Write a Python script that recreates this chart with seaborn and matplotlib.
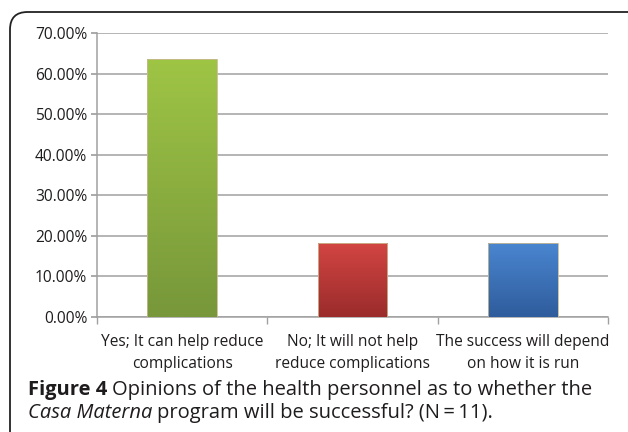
import numpy as np
import matplotlib
matplotlib.use("Agg")
import matplotlib.pyplot as plt
import seaborn as sns
import pandas as pd
from matplotlib.patches import FancyBboxPatch
from matplotlib.colors import LinearSegmentedColormap
from matplotlib.ticker import FuncFormatter

categories = ["Yes; It can help reduce\ncomplications",
              "No; It will not help\nreduce complications",
              "The success will depend\non how it is run"]
values = [63.64, 18.18, 18.18]
top_colors = ["#9fc545", "#d24543", "#4a86d0"]
bottom_colors = ["#77973a", "#9a2c2b", "#2f5c9c"]
y_ticks = [0, 10, 20, 30, 40, 50, 60, 70]

sns.set_theme(style="white")
plt.rcParams['font.family'] = ['Open Sans', 'DejaVu Sans']
TXT = "#1f1c1d"

fig = plt.figure(figsize=(6.28, 4.32), dpi=100)
W, H = 628, 432
ax = fig.add_axes([97 / W, 1 - 317 / H, (608 - 97) / W, (317 - 33) / H])

df = pd.DataFrame({"cat": categories, "val": values})
sns.barplot(data=df, x="cat", y="val", ax=ax, width=0.41,
            palette=top_colors, hue="cat", legend=False, saturation=1,
            edgecolor="#c9b98f", linewidth=0.6, zorder=3)

ax.set_ylim(0, 70)
ax.set_xlim(-0.5, 2.5)
ax.set_yticks(y_ticks)
ax.yaxis.set_major_formatter(FuncFormatter(lambda v, p: f"{v:.2f}%"))
ax.grid(axis="y", color="#a0a0a0", linewidth=1.1, zorder=0)
ax.set_axisbelow(True)
for s in ["top", "right"]:
    ax.spines[s].set_visible(False)
for s in ["left", "bottom"]:
    ax.spines[s].set_color("#a0a0a0")
    ax.spines[s].set_linewidth(1.1)
ax.set_xlabel("")
ax.set_ylabel("")
ax.tick_params(axis="y", which="major", length=4, color="#a0a0a0", left=True,
               labelsize=11.2, labelcolor=TXT, pad=3)
ax.set_xticks([0, 1, 2])
ax.set_xticklabels(categories, fontsize=11.2, color=TXT, linespacing=1.5)
ax.tick_params(axis="x", length=0, pad=12.5)
ax.set_xticks([-0.5, 0.5, 1.5, 2.5], minor=True)
ax.tick_params(axis="x", which="minor", length=5, color="#a0a0a0", bottom=True)

# vertical gradients on bars
for i, p in enumerate(list(ax.patches)):
    x0, y0 = p.get_x(), p.get_y()
    w, h = p.get_width(), p.get_height()
    cmap = LinearSegmentedColormap.from_list("g", [bottom_colors[i], top_colors[i]])
    grad = np.linspace(0, 1, 256).reshape(-1, 1)
    im = ax.imshow(grad, cmap=cmap, aspect="auto", origin="lower",
                   extent=[x0, x0 + w, y0, y0 + h], zorder=3.5)
    im.set_clip_path(p)
    p.set_zorder(4)
    p.set_facecolor("none")
ax.set_xlim(-0.5, 2.5)
ax.set_ylim(0, 70)

# outer frame (open to the right and bottom)
frame = FancyBboxPatch((10 / W, -0.5), 2.0, (H - 12) / H + 0.5,
                       boxstyle="round,pad=0,rounding_size=0.028",
                       transform=fig.transFigure, fill=False,
                       edgecolor="#222222", linewidth=1.3, mutation_aspect=W / H)
fig.patches.append(frame)

# caption, placed piece by piece
fig.canvas.draw()
r = fig.canvas.get_renderer()
CS = 14.5

def put(x_px, y_px, s, **kw):
    t = fig.text(x_px / W, 1 - y_px / H, s, fontsize=CS, color=TXT,
                 va="center", **kw)
    bb = t.get_window_extent(renderer=r)
    return bb.x1

x = put(28, 390, "Figure 4", fontweight="bold")
put(x + 5, 390, "Opinions of the health personnel as to whether the")
x = put(28, 413, "Casa Materna", style="italic")
put(x + 5, 413, "program will be successful? (N\u2009=\u200911).")

fig.savefig("out.png", dpi=100)
